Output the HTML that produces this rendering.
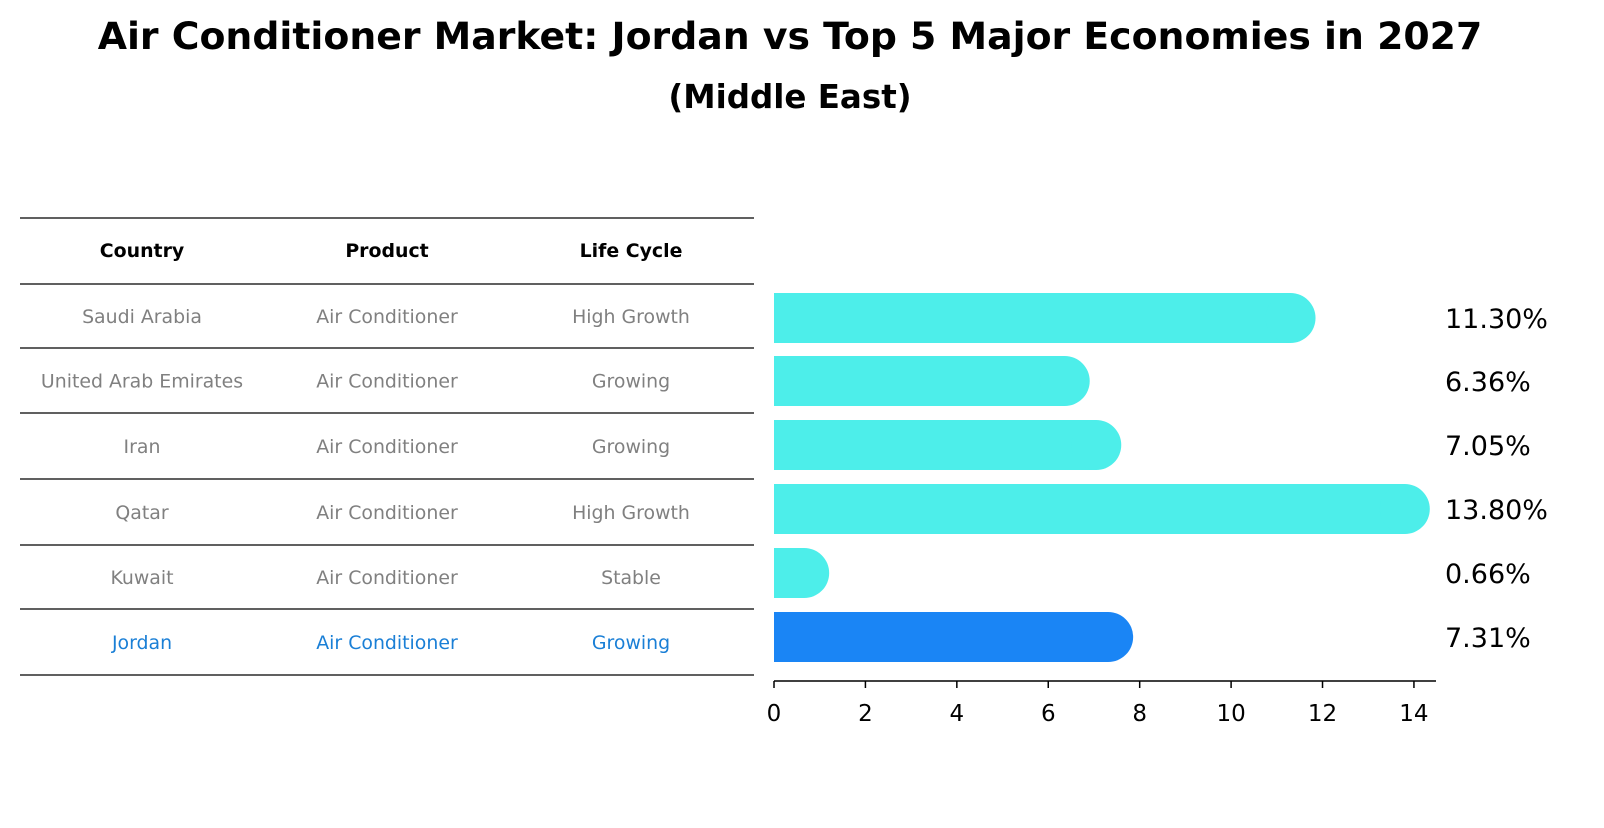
<!DOCTYPE html>
<html><head><meta charset="utf-8"><style>
body{margin:0;background:#fff;font-family:"Liberation Sans","DejaVu Sans",sans-serif}
</style></head><body>
<svg width="1604" height="823" xmlns="http://www.w3.org/2000/svg" font-family="DejaVu Sans, Liberation Sans, sans-serif">
<text x="790" y="49" text-anchor="middle" font-size="37.8" font-weight="bold">Air Conditioner Market: Jordan vs Top 5 Major Economies in 2027</text>
<text x="790" y="108" text-anchor="middle" font-size="32.5" font-weight="bold">(Middle East)</text>
<g id="table"></g>
<g id="bars"></g>
</svg>
<script>
const countries=["Saudi Arabia","United Arab Emirates","Iran","Qatar","Kuwait","Jordan"];
const products=["Air Conditioner","Air Conditioner","Air Conditioner","Air Conditioner","Air Conditioner","Air Conditioner"];
const lifeCycles=["High Growth","Growing","Growing","High Growth","Stable","Growing"];
const values=[11.30,6.36,7.05,13.80,0.66,7.31];
const valueLabels=["11.30%","6.36%","7.05%","13.80%","0.66%","7.31%"];
const ticks=[0,2,4,6,8,10,12,14];
const NS="http://www.w3.org/2000/svg";
function mk(t,a,p,txt){const e=document.createElementNS(NS,t);for(const k in a)e.setAttribute(k,a[k]);if(txt!==undefined)e.textContent=txt;p.appendChild(e);return e;}
const tb=document.getElementById('table'),bg=document.getElementById('bars');
const lines=[218,284,348,413,479,545,609,675];
lines.forEach(y=>{const l=mk('line',{x1:20,x2:754,y1:y,y2:y,stroke:'#000','stroke-width':1.2},tb);
});
const cols=[142,387,631];
["Country","Product","Life Cycle"].forEach((h,i)=>{const t=mk('text',{x:cols[i],y:257,'text-anchor':'middle','font-size':18.9,'font-weight':'bold'},tb,h);
});
const x=v=>774+v*45.71;
countries.forEach((c,i)=>{
 const rc=(lines[i+1]+lines[i+2])/2;
 const col=c==="Jordan"?"#1a7fd6":"#808080";
 [c,products[i],lifeCycles[i]].forEach((s,j)=>{const t=mk('text',{x:cols[j],y:rc+7,'text-anchor':'middle','font-size':18.9,fill:col},tb,s);
 });
 const cy=[318,381,445,509,573,637][i];
 const fill=c==="Jordan"?"#1a85f5":"#4deeea";
 const w=x(values[i])-774;
 const r=mk('rect',{x:774,y:cy-25,width:w,height:50,fill:fill},bg);
 
 const cap=mk('circle',{cx:x(values[i]),cy:cy,r:25,fill:fill},bg);
 
 const vl=mk('text',{x:1445,y:cy+10,'font-size':27},bg,valueLabels[i]);
 
});
const ax=mk('line',{x1:774,x2:1436,y1:681,y2:681,stroke:'#000','stroke-width':1.5},bg);

ticks.forEach(t=>{const l=mk('line',{x1:x(t),x2:x(t),y1:681,y2:688,stroke:'#000','stroke-width':1.5},bg);

const tx=mk('text',{x:x(t),y:721,'text-anchor':'middle','font-size':23},bg,t);
});
</script>
</body></html>
